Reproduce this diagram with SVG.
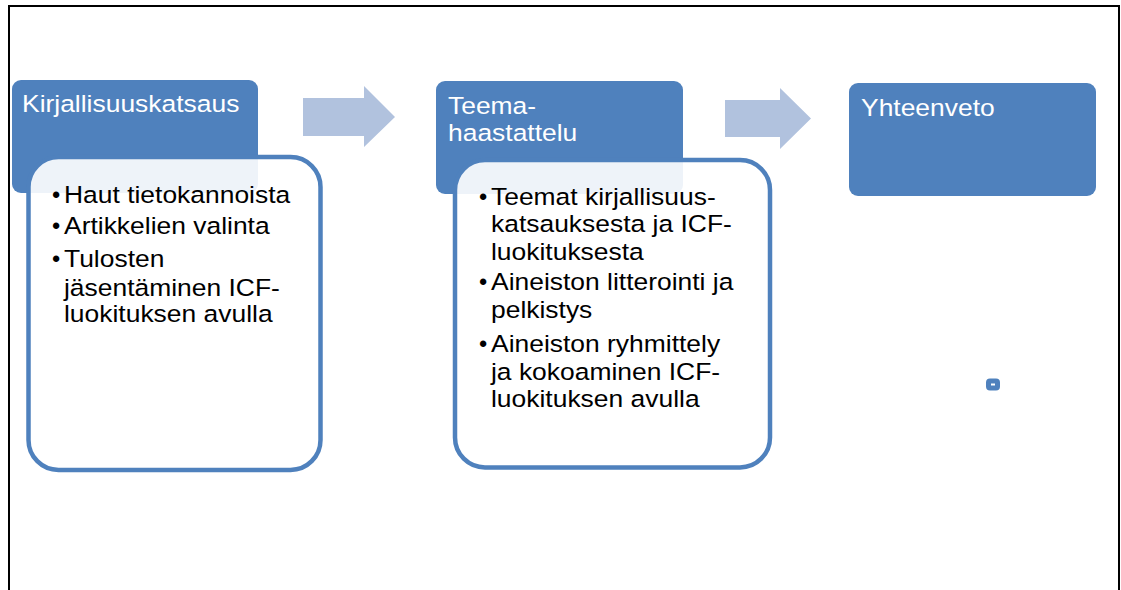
<svg xmlns="http://www.w3.org/2000/svg" width="1121" height="590" viewBox="0 0 1121 590">
<style>
.hdr{fill:#4F81BD;}
.card{fill:#FFFFFF;fill-opacity:0.9;stroke:#4F81BD;stroke-width:4.5;}
.arrow{fill:#B1C2DE;}
.ttl{font-family:"Liberation Sans",Arial,sans-serif;font-size:23.5px;fill:#FFFFFF;}
.txt{font-family:"Liberation Sans",Arial,sans-serif;font-size:23.5px;fill:#000000;}
</style>
<rect x="0" y="0" width="1121" height="590" fill="#FFFFFF"/>
<path d="M9,590 V6 H1119 V590" fill="none" stroke="#000000" stroke-width="2"/>
<g id="connectors">
<polygon class="arrow" points="303,98 364,98 364,86 395,117 364,147 364,136 303,136"/>
<polygon class="arrow" points="725,100 780,100 780,88 811,118.5 780,149 780,137 725,137"/>
</g>
<g id="node-kirjallisuuskatsaus">
<rect class="hdr" x="12" y="80" width="246" height="113" rx="9"/>
<text class="ttl" transform="translate(22,0) scale(1.125,1)" x="0" y="112.5">Kirjallisuuskatsaus</text>
<rect class="card" x="28.5" y="157" width="292" height="313" rx="30"/>
<text class="txt" x="52" y="203">•</text>
<text class="txt" x="52" y="234">•</text>
<text class="txt" x="52" y="267">•</text>
<text class="txt" transform="translate(64,0) scale(1.125,1)">
<tspan x="0" y="203">Haut tietokannoista</tspan>
<tspan x="0" y="234">Artikkelien valinta</tspan>
<tspan x="0" y="267">Tulosten</tspan>
<tspan x="0" y="296">jäsentäminen ICF-</tspan>
<tspan x="0" y="322">luokituksen avulla</tspan>
</text>
</g>
<g id="node-teemahaastattelu">
<rect class="hdr" x="436" y="81" width="247" height="113" rx="9"/>
<text class="ttl" transform="translate(448,0) scale(1.125,1)">
<tspan x="0" y="114.5">Teema-</tspan>
<tspan x="0" y="141.5">haastattelu</tspan>
</text>
<rect class="card" x="455" y="160" width="315" height="307.5" rx="30"/>
<text class="txt" x="479" y="205">•</text>
<text class="txt" x="479" y="290">•</text>
<text class="txt" x="479" y="352">•</text>
<text class="txt" transform="translate(491,0) scale(1.125,1)">
<tspan x="0" y="205">Teemat kirjallisuus-</tspan>
<tspan x="0" y="232">katsauksesta ja ICF-</tspan>
<tspan x="0" y="260">luokituksesta</tspan>
<tspan x="0" y="290">Aineiston litterointi ja</tspan>
<tspan x="0" y="318">pelkistys</tspan>
<tspan x="0" y="352">Aineiston ryhmittely</tspan>
<tspan x="0" y="380">ja kokoaminen ICF-</tspan>
<tspan x="0" y="407">luokituksen avulla</tspan>
</text>
</g>
<g id="node-yhteenveto">
<rect class="hdr" x="849" y="83" width="247" height="113" rx="9"/>
<text class="ttl" transform="translate(861,0) scale(1.125,1)" x="0" y="116.5">Yhteenveto</text>
</g>
<g id="node-small">
<rect x="988.5" y="381" width="9" height="7" rx="1.5" fill="#FFFFFF" stroke="#4F81BD" stroke-width="5"/>
</g>
</svg>
